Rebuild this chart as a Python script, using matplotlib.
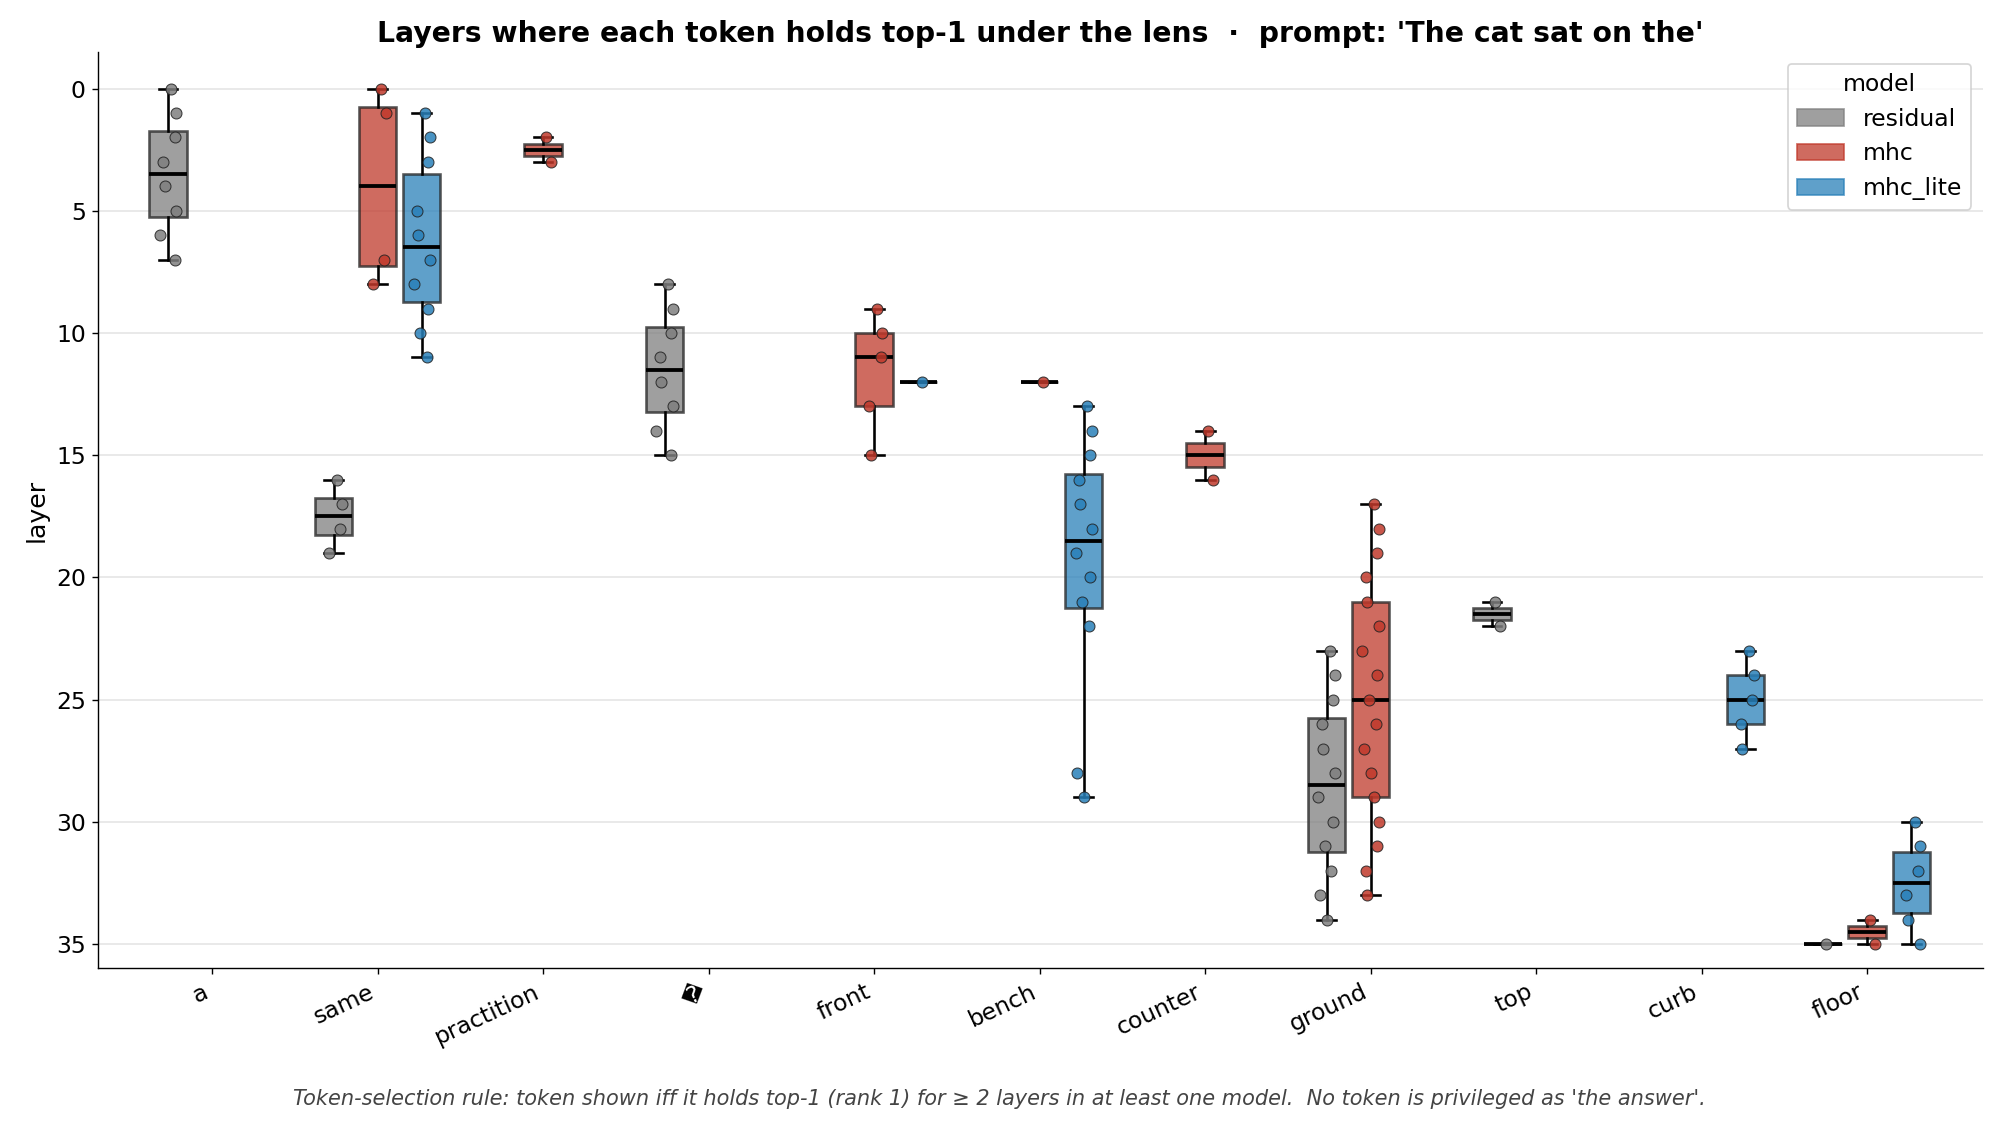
import matplotlib
matplotlib.use("Agg")
import matplotlib.pyplot as plt
from matplotlib.patches import Patch

# tokens on the x axis (the 4th one is a byte token shown as U+FFFD)
tokens = ['a', 'same', 'practition', '\ufffd', 'front', 'bench',
          'counter', 'ground', 'top', 'curb', 'floor']

models = ['residual', 'mhc', 'mhc_lite']
colors = {'residual': '#7f7f7f', 'mhc': '#c0392b', 'mhc_lite': '#2980b9'}

# layers where each token is top-1, one list per token
residual_layers = [
    [0, 1, 2, 3, 4, 5, 6, 7],
    [16, 17, 18, 19],
    [],
    [8, 9, 10, 11, 12, 13, 14, 15],
    [],
    [],
    [],
    [23, 24, 25, 26, 27, 28, 29, 30, 31, 32, 33, 34],
    [21, 22],
    [],
    [35],
]
mhc_layers = [
    [],
    [0, 1, 7, 8],
    [2, 3],
    [],
    [9, 10, 11, 13, 15],
    [12],
    [14, 16],
    [17, 18, 19, 20, 21, 22, 23, 24, 25, 26, 27, 28, 29, 30, 31, 32, 33],
    [],
    [],
    [34, 35],
]
mhc_lite_layers = [
    [],
    [1, 2, 3, 5, 6, 7, 8, 9, 10, 11],
    [],
    [],
    [12],
    [13, 14, 15, 16, 17, 18, 19, 20, 21, 22, 28, 29],
    [],
    [],
    [],
    [23, 24, 25, 26, 27],
    [30, 31, 32, 33, 34, 35],
]
layers_by_model = {'residual': residual_layers, 'mhc': mhc_layers,
                   'mhc_lite': mhc_lite_layers}

# fixed horizontal spread pattern for the dots
jitter = [0.02, 0.05, 0.04, -0.03, -0.02, 0.05, -0.05, 0.04, -0.01, 0.03, -0.04, 0.0]

slot = 0.8 / 3
box_w = 0.226

fig = plt.figure(figsize=(15.992, 8.992), dpi=125)
ax = fig.add_axes([0.049, 0.1388, 0.943, 0.815])

for k, m in enumerate(models):
    off = (k - 1) * slot
    for i, vals in enumerate(layers_by_model[m]):
        if not vals:
            continue
        pos = i + off
        ax.boxplot([vals], positions=[pos], widths=box_w, patch_artist=True,
                   showfliers=False, manage_ticks=False,
                   boxprops=dict(facecolor=colors[m], alpha=0.75,
                                 edgecolor='#222222', linewidth=1.5),
                   whiskerprops=dict(color='black', linewidth=1.5),
                   capprops=dict(color='black', linewidth=1.5),
                   medianprops=dict(color='black', linewidth=2.2),
                   zorder=2)
        xs = [pos + jitter[j % len(jitter)] for j in range(len(vals))]
        ax.scatter(xs, vals, s=40, color=colors[m], edgecolor='#222222',
                   linewidth=0.6, alpha=0.85, zorder=3)

ax.set_xticks(range(len(tokens)))
ax.set_xticklabels(tokens, rotation=25, ha='right', fontsize=13.5)
ax.set_xlim(-0.69, 10.7)
ax.set_ylim(35.98, -1.5)
ax.set_yticks([0, 5, 10, 15, 20, 25, 30, 35])
ax.tick_params(axis='y', labelsize=13.5)
ax.set_ylabel('layer', fontsize=14.5)
ax.yaxis.grid(True, color='#e6e6e6', linewidth=1.0, zorder=0)
ax.set_axisbelow(True)
ax.spines['top'].set_visible(False)
ax.spines['right'].set_visible(False)

ax.set_title("Layers where each token holds top-1 under the lens  \u00b7  prompt: 'The cat sat on the'",
             fontsize=16.3, fontweight='bold')

handles = [Patch(facecolor=colors[m], edgecolor=colors[m], alpha=0.75, label=m)
           for m in models]
ax.legend(handles=handles, title='model', loc='upper right', fontsize=13.5,
          title_fontsize=13.5)

fig.text(0.5, 0.013,
         "Token-selection rule: token shown iff it holds top-1 (rank 1) for \u2265 2 layers "
         "in at least one model.  No token is privileged as 'the answer'.",
         ha='center', va='bottom', fontsize=12, style='italic', color='#444444')

fig.savefig('out.png', dpi=125)
